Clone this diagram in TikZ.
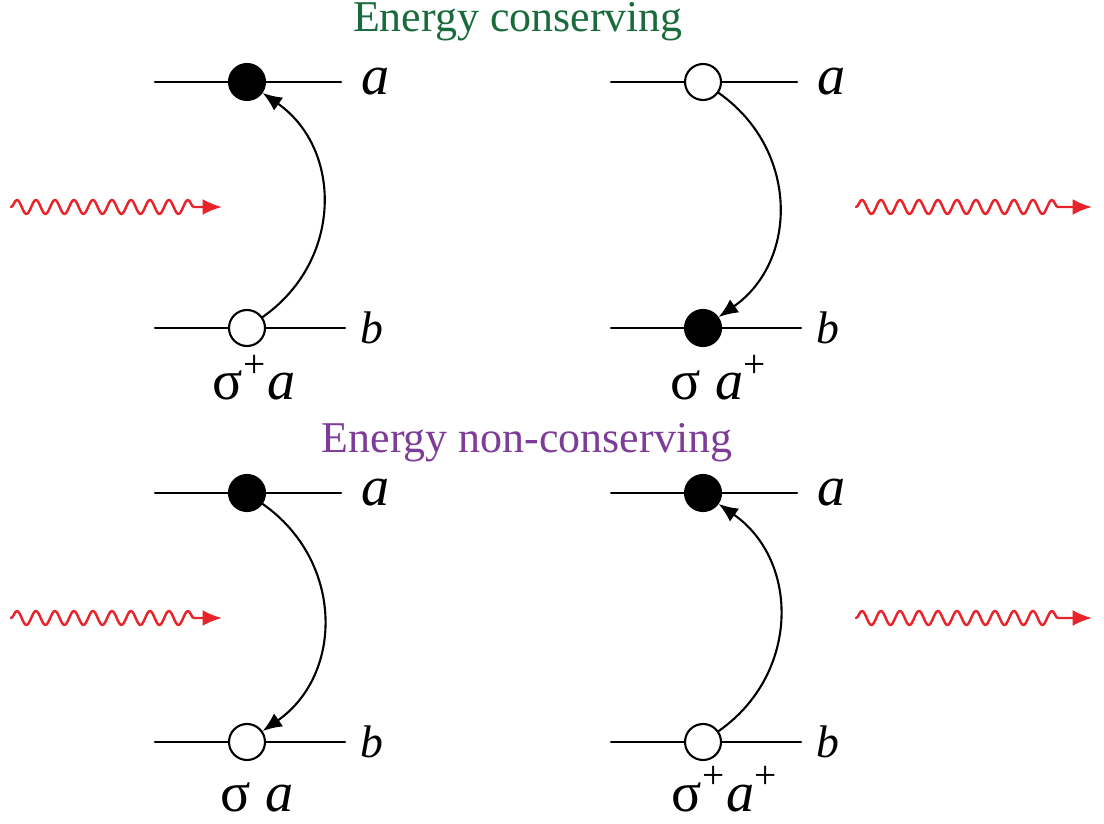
\documentclass[tikz,border=0pt]{standalone}
\usepackage{fontspec}
\setmainfont{Liberation Serif}
\usetikzlibrary{arrows.meta,positioning,decorations.pathmorphing}
\definecolor{titleA}{HTML}{1A6B3C}
\definecolor{titleB}{HTML}{7D3C98}
\definecolor{photon}{HTML}{E8232A}

\begin{document}
\begin{tikzpicture}[line cap=round,line join=round,>={Latex[length=5.5pt,width=4.5pt]}]
\tikzset{
 level/.style={line width=0.6pt},
 occ/.style={circle,draw,line width=0.6pt,fill=black,minimum size=0.36cm,inner sep=0pt},
 emp/.style={occ,fill=white},
 hop/.style={line width=0.6pt},
 wave/.style={photon,line width=0.7pt,decorate,
  decoration={snake,amplitude=0.07cm,segment length=0.19cm,post length=0.25cm}},
 alab/.style={font=\fontsize{16}{18}\selectfont\itshape,inner sep=0pt},
 blab/.style={font=\fontsize{13}{15}\selectfont\itshape,inner sep=0pt},
 oplab/.style={font=\fontsize{16}{18}\selectfont,anchor=base,inner sep=0pt},
 title/.style={font=\fontsize{12.5}{15}\selectfont}
}
\useasboundingbox (0,0) rectangle (11.04,8.23);
\node[title,titleA] (consv) at (5.18,8.01) {Energy conserving};
\node[title,titleB] (nonconsv) at (5.27,3.80) {Energy non-conserving};
% the four level pairs with their transition
\foreach \n/\cx/\ya/\yb/\up/\lo/\tip in {1/2.47/7.41/4.95/occ/emp/->,
 2/7.03/7.41/4.95/emp/occ/<-, 3/2.47/3.30/0.81/occ/emp/<-, 4/7.03/3.30/0.81/occ/emp/->}{
 \coordinate (aL\n) at (\cx-0.92,\ya);
 \coordinate (aR\n) at (\cx+0.94,\ya);
 \coordinate (bL\n) at (\cx-0.92,\yb);
 \coordinate (bR\n) at (\cx+0.98,\yb);
 \draw[level] (aL\n) -- (aR\n);
 \draw[level] (bL\n) -- (bR\n);
 \node[\up] (up\n) at (\cx,\ya) {};
 \node[\lo] (lo\n) at (\cx,\yb) {};
 \node[alab,right=0.2 of aR\n] (la\n) {a};
 \node[blab,right=0.15 of bR\n] (lb\n) {b};
 \draw[hop,\tip] (lo\n) to[out=35,in=-35,looseness=1.12] (up\n);
}
% incoming field
\foreach \r/\wy in {top/6.16,bot/2.05}{
 \coordinate (wLs\r) at (0.11,\wy);
 \coordinate (wLe\r) at (2.22,\wy);
 \coordinate (wRs\r) at (8.56,\wy);
 \coordinate (wRe\r) at (10.92,\wy);
 \draw[wave,->] (wLs\r) -- (wLe\r);
 \draw[wave,->] (wRs\r) -- (wRe\r);
}
\node[oplab] (op1) at (2.54,4.23) {σ\textsuperscript{+}\textit{a}};
\node[oplab] (op2) at (7.19,4.23) {σ \textit{a}\textsuperscript{+}};
\node[oplab] (op3) at (2.57,0.12) {σ \textit{a}};
\node[oplab] (op4) at (7.25,0.12) {σ\textsuperscript{+}\textit{a}\textsuperscript{+}};
\end{tikzpicture}
\end{document}
